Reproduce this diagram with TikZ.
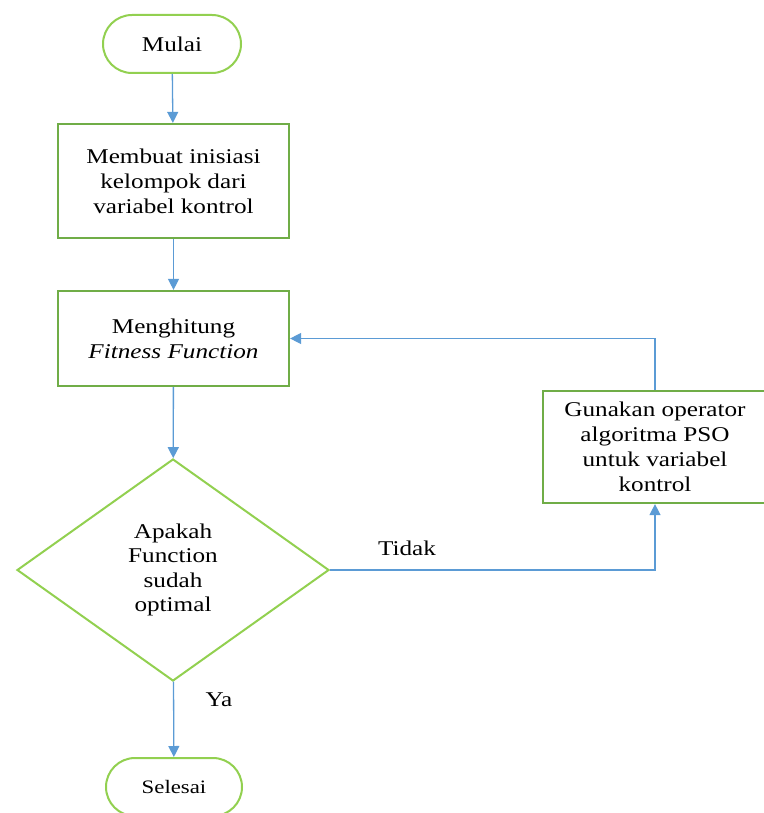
\documentclass[tikz,border=0pt]{standalone}
\usepackage{fontspec}
\setmainfont{Liberation Serif}[FakeStretch=1.2]
\usetikzlibrary{shapes.geometric,arrows.meta}
\definecolor{boxgreen}{HTML}{70AD47}
\definecolor{lightgreen}{HTML}{92D050}
\definecolor{lineblue}{HTML}{5B9BD5}

\begin{document}
\begin{tikzpicture}[x=1pt, y=-1pt]
\useasboundingbox (0,0) rectangle (763,813);

\tikzset{terminal/.style={draw=lightgreen, line width=2pt, rounded corners=29pt, minimum width=138pt, minimum height=58pt, font=\fontsize{21}{25}\selectfont}}
\tikzset{process/.style={draw=boxgreen, line width=2.2pt, align=center, inner sep=0pt, font=\fontsize{21}{25}\selectfont}}
\tikzset{decision/.style={draw=lightgreen, line width=2pt, diamond, inner sep=0pt, minimum width=312pt, minimum height=222pt, align=center, font=\fontsize{21}{24.5}\selectfont}}
\node[terminal] (mulai) at (172,44) {Mulai};
\node[process, minimum width=231pt, minimum height=114pt] (init) at (173.5,181) {Membuat inisiasi\\kelompok dari\\variabel kontrol};
\node[process, minimum width=231pt, minimum height=95pt] (hitung) at (173.5,338.5) {Menghitung\\\textit{Fitness Function}};
\node[decision] (cek) at (173,570) {Apakah\\Function\\sudah\\optimal};
\node[process, minimum width=224pt, minimum height=112pt] (pso) at (655,447) {Gunakan operator\\algoritma PSO\\untuk variabel\\kontrol};
\node[terminal, minimum width=136pt, font=\fontsize{19}{23}\selectfont] (selesai) at (174,787) {Selesai};

\tikzset{answer/.style={font=\fontsize{21}{25}\selectfont}}
\node[answer] (tidak) at (407,548) {Tidak};
\node[answer] (ya) at (219,700) {Ya};

\tikzset{myarrow/.style={-{Triangle[width=11pt,length=11pt]}, draw=lineblue, line width=1.3pt}}
\draw[myarrow] (mulai) -- (init);
\draw[myarrow] (init) -- (hitung);
\draw[myarrow] (hitung) -- (cek);
\draw[myarrow] (cek.east) -| (pso.south);
\draw[myarrow] (pso.north) |- (hitung.east);
\draw[myarrow] (cek) -- (selesai);
\end{tikzpicture}
\end{document}
